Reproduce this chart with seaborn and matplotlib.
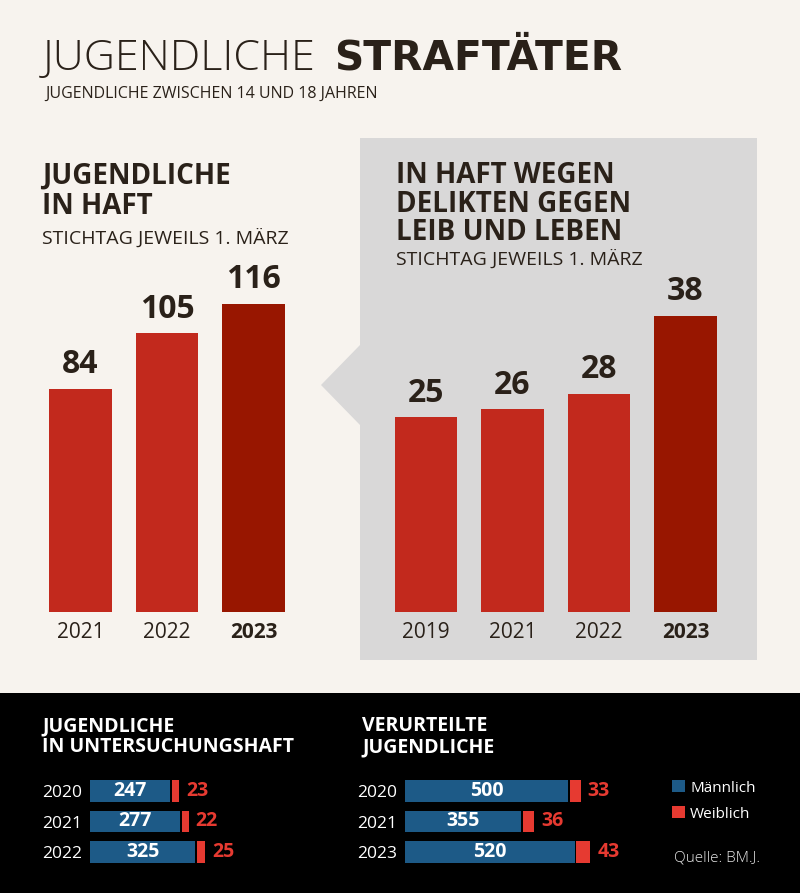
import matplotlib
matplotlib.use("Agg")
import matplotlib.pyplot as plt
import seaborn as sns
from matplotlib.patches import Polygon, Rectangle

sns.set_theme(style="white")
plt.rcParams['font.family'] = ['Open Sans', 'DejaVu Sans']

# ---------------- data ----------------
haft_years = ["2021", "2022", "2023"]
haft_values = [84, 105, 116]

leib_years = ["2019", "2021", "2022", "2023"]
leib_values = [25, 26, 28, 38]

uhaft_years = ["2020", "2021", "2022"]
uhaft_male = [247, 277, 325]
uhaft_female = [23, 22, 25]

verurt_years = ["2020", "2021", "2023"]
verurt_male = [500, 355, 520]
verurt_female = [33, 36, 43]

# ---------------- style ----------------
BG = "#f7f3ee"
GRAY = "#d9d8d8"
RED = "#c2291d"
DARKRED = "#981600"
BLUE = "#1d5a87"
BRIGHTRED = "#e63a31"
INK = "#2a2119"

W, H = 800, 893
fig = plt.figure(figsize=(W / 100, H / 100), dpi=100)
fig.patch.set_facecolor(BG)

# background / annotation layer in pixel coordinates
bg = fig.add_axes([0, 0, 1, 1])
bg.set_xlim(0, W)
bg.set_ylim(H, 0)
bg.axis("off")
bg.set_zorder(0)

bg.add_patch(Polygon([(360, 138), (757, 138), (757, 660), (360, 660),
                      (360, 425), (321, 385), (360, 345)],
                     closed=True, facecolor=GRAY, edgecolor="none"))
bg.add_patch(Rectangle((0, 693), W, H - 693, facecolor="black", edgecolor="none"))

# title
bg.text(43, 70, "JUGENDLICHE", fontsize=31, fontfamily="Open Sans", fontweight="light",
        color=INK, va="baseline", ha="left")
bg.text(334, 70, "STRAFTÄTER", fontsize=29.3, fontfamily="DejaVu Sans", fontweight="bold",
        color=INK, va="baseline", ha="left")
bg.text(45, 98, "JUGENDLICHE ZWISCHEN 14 UND 18 JAHREN", fontsize=11.5,
        color=INK, va="baseline", ha="left")

# left heading
bg.text(42, 183.5, "JUGENDLICHE", fontsize=20, fontweight="bold", color=INK, va="baseline")
bg.text(42, 214, "IN HAFT", fontsize=20, fontweight="bold", color=INK, va="baseline")
bg.text(42, 244, "STICHTAG JEWEILS 1. MÄRZ", fontsize=14, color=INK, va="baseline")

# right heading
for i, line in enumerate(["IN HAFT WEGEN", "DELIKTEN GEGEN", "LEIB UND LEBEN"]):
    bg.text(396, 183 + i * 28.5, line, fontsize=20, fontweight="bold", color=INK, va="baseline")
bg.text(396, 265, "STICHTAG JEWEILS 1. MÄRZ", fontsize=14, color=INK, va="baseline")

# bottom headings
bg.text(42, 731, "JUGENDLICHE", fontsize=14, fontweight="bold", color="white", va="baseline")
bg.text(42, 752, "IN UNTERSUCHUNGSHAFT", fontsize=14, fontweight="bold", color="white", va="baseline")
bg.text(362, 731, "VERURTEILTE", fontsize=14, fontweight="bold", color="white", va="baseline")
bg.text(362, 752, "JUGENDLICHE", fontsize=14, fontweight="bold", color="white", va="baseline")

# legend
bg.add_patch(Rectangle((672, 780), 13, 12, facecolor=BLUE, edgecolor="none"))
bg.text(690, 792, "Männlich", fontsize=11, color="white", va="baseline")
bg.add_patch(Rectangle((672, 806), 13, 12, facecolor=BRIGHTRED, edgecolor="none"))
bg.text(690, 818, "Weiblich", fontsize=11, color="white", va="baseline")
bg.text(674, 862, "Quelle: BM.J.", fontsize=11, fontweight="light", color="#e6e6e6", va="baseline")


def ax_px(x0, y_top, w, h):
    a = fig.add_axes([x0 / W, (H - y_top - h) / H, w / W, h / H])
    a.set_facecolor("none")
    a.set_zorder(2)
    for s in a.spines.values():
        s.set_visible(False)
    return a


def vertical_chart(ax, years, values, ymax):
    pal = {y: (DARKRED if y == years[-1] else RED) for y in years}
    sns.barplot(x=years, y=values, hue=years, palette=pal, order=years,
                width=0.717, legend=False, ax=ax, saturation=1, linewidth=0,
                edgecolor="none")
    ax.set_ylim(0, ymax)
    ax.set_xlim(-0.5, len(years) - 0.5)
    ax.set_yticks([])
    ax.set_ylabel("")
    ax.tick_params(axis="x", length=0, pad=7, labelsize=15, labelcolor=INK)
    for lbl in ax.get_xticklabels():
        if lbl.get_text() == years[-1]:
            lbl.set_fontweight("bold")
    for i, v in enumerate(values):
        ax.annotate(str(v), (i, v), xytext=(0, 5.5), textcoords="offset points",
                    ha="center", va="bottom", fontsize=23, fontweight="bold", color=INK)


ax1 = ax_px(37.25, 612 - 130 * 2.655, 259.5, 130 * 2.655)
vertical_chart(ax1, haft_years, haft_values, 130)

ax2 = ax_px(382.75, 612 - 45 * 7.79, 346, 45 * 7.79)
vertical_chart(ax2, leib_years, leib_values, 45)


def horizontal_chart(ax, years, male, female, gap=6):
    sns.barplot(x=male, y=years, order=years, orient="h", color=BLUE,
                width=0.69, ax=ax, saturation=1, linewidth=0, edgecolor="none")
    for i, (m, f) in enumerate(zip(male, female)):
        ax.barh(i, f, left=m + gap, height=0.69, color=BRIGHTRED, linewidth=0)
        ax.text(m / 2, i, str(m), ha="center", va="center", fontsize=14,
                fontweight="bold", color="white")
        ax.annotate(str(f), (m + gap + f, i), xytext=(5, 0), textcoords="offset points",
                    ha="left", va="center", fontsize=14, fontweight="bold", color=BRIGHTRED)
    ax.set_xlim(0, 700)
    ax.set_ylim(2.5, -0.5)
    ax.set_xticks([])
    ax.set_xlabel("")
    ax.set_ylabel("")
    ax.tick_params(axis="y", length=0, pad=5.5, labelsize=12.5, labelcolor="white")


ax3 = ax_px(90, 775.75, 700 * 0.324, 91.5)
horizontal_chart(ax3, uhaft_years, uhaft_male, uhaft_female)

ax4 = ax_px(405, 775.75, 700 * 0.326, 91.5)
horizontal_chart(ax4, verurt_years, verurt_male, verurt_female)

fig.savefig("out.png", dpi=100, facecolor=BG)
